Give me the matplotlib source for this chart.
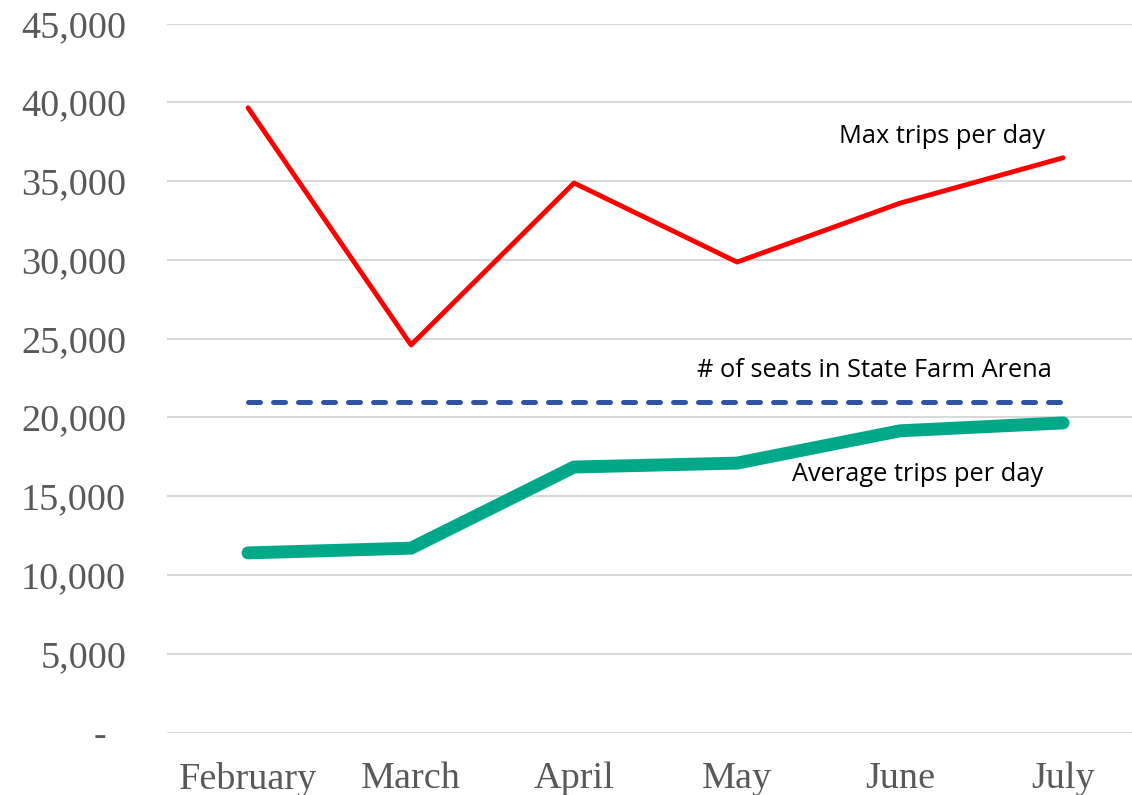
import matplotlib
matplotlib.use("Agg")
import matplotlib.pyplot as plt
from matplotlib.ticker import FuncFormatter

# ================ data ================
months = ['February', 'March', 'April', 'May', 'June', 'July']
max_trips = [39650, 24600, 34880, 29860, 33600, 36480]
avg_trips = [11400, 11700, 16850, 17100, 19150, 19650]
arena_seats = [21000] * len(months)

# ================ figure ================
fig = plt.figure(figsize=(11.32, 7.95), dpi=100)
ax = fig.add_axes([0.1471, 0.0786, 0.864, 0.8918])

x = range(len(months))
ax.plot(x, max_trips, color='#FF0000', lw=3.5, solid_capstyle='round', solid_joinstyle='round', zorder=3)
ax.plot(x, avg_trips, color='#00A88A', lw=9.3, solid_capstyle='round', solid_joinstyle='round', zorder=3)
ax.plot(x, arena_seats, color='#2F55A4', lw=3.6, dashes=(2.4, 2.6), dash_capstyle='round', zorder=3)

ax.set_xlim(-0.5, 5.5)
ax.set_ylim(0, 45000)
ax.set_yticks(range(0, 45001, 5000))
ax.yaxis.set_major_formatter(FuncFormatter(lambda v, p: '-  ' if v == 0 else f'{int(v):,}'))
ax.set_xticks(list(x))
ax.set_xticklabels(months)

ax.grid(axis='y', color='#D9D9D9', lw=1.5)
ax.set_axisbelow(True)
for s in ax.spines.values():
    s.set_visible(False)
ax.tick_params(length=0, labelsize=27.5, labelcolor='#595959')
ax.tick_params(axis='x', pad=21)
ax.tick_params(axis='y', pad=29)
for lab in ax.get_xticklabels() + ax.get_yticklabels():
    lab.set_family('Liberation Serif')

# ================ labels ================
lbl = dict(fontsize=18.3, family='Open Sans', color='black', ha='center', va='center')
ax.text(4.26, 37850, 'Max trips per day', **lbl)
ax.text(3.84, 22950, '# of seats in State Farm Arena', **lbl)
ax.text(4.11, 16400, 'Average trips per day', **lbl)

fig.savefig('out.png', dpi=100)
